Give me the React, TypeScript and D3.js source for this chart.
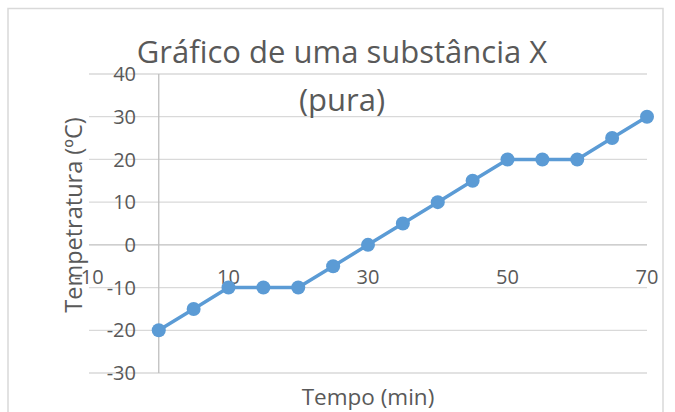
import * as React from 'react';
import * as d3 from 'd3';

const tempo = [0, 5, 10, 15, 20, 25, 30, 35, 40, 45, 50, 55, 60, 65, 70];
const temperatura = [-20, -15, -10, -10, -10, -5, 0, 5, 10, 15, 20, 20, 20, 25, 30];
const xTicks = [-10, 10, 30, 50, 70];
const yTicks = [-30, -20, -10, 0, 10, 20, 30, 40];
const titleLines = ['Gráfico de uma substância X', '(pura)'];

const WIDTH = 675;
const HEIGHT = 412;
const FONT = '"Open Sans", Lato, sans-serif';
const TEXT = '#595959';
const BLUE = '#5b9bd5';

export default function App() {
    const x = d3.scaleLinear().domain([-10, 70]).range([89, 647]);
    const y = d3.scaleLinear().domain([-30, 40]).range([373, 74]);

    const line = d3.line<number>()
        .x((d, i) => x(tempo[i]))
        .y((d) => y(d));

    return (
        <svg width={WIDTH} height={HEIGHT} style={{ position: 'absolute', left: 0, top: 0 }}>
            <rect x={0} y={0} width={WIDTH} height={HEIGHT} fill="#fff" />
            <rect x={8} y={8.5} width={655} height={420} fill="#fff" stroke="#d9d9d9" strokeWidth={1.5} />

            {/* grid */}
            {yTicks.map((t) => (
                <line key={'g' + t} x1={x(-10)} x2={x(70)} y1={y(t)} y2={y(t)}
                    stroke={t === 0 ? '#bfbfbf' : '#d9d9d9'} strokeWidth={1.3} />
            ))}
            <line x1={x(0)} x2={x(0)} y1={y(40)} y2={y(-30)} stroke="#bfbfbf" strokeWidth={1.3} />

            {/* y tick labels */}
            {yTicks.map((t) => (
                <text key={'y' + t} x={136} y={y(t)} dy="0.36em" textAnchor="end"
                    fontFamily={FONT} fontSize={20} fill={TEXT}>{t}</text>
            ))}

            {/* x tick labels */}
            {xTicks.map((t) => (
                <text key={'x' + t} x={x(t)} y={284} textAnchor="middle"
                    fontFamily={FONT} fontSize={20} fill={TEXT}>{t}</text>
            ))}

            {/* series */}
            <path d={line(temperatura) || ''} fill="none" stroke={BLUE} strokeWidth={3.5} strokeLinejoin="round" />
            {temperatura.map((v, i) => (
                <circle key={'p' + i} cx={x(tempo[i])} cy={y(v)} r={7} fill={BLUE} />
            ))}

            {/* title */}
            {titleLines.map((s, i) => (
                <text key={'t' + i} x={342} y={63 + i * 48} textAnchor="middle"
                    fontFamily={FONT} fontSize={31} fill={TEXT}>{s}</text>
            ))}

            {/* axis titles */}
            <text transform={`translate(82,215) rotate(-90)`} textAnchor="middle"
                fontFamily={FONT} fontSize={23.5} fill={TEXT}>Tempetratura (ºC)</text>
            <text x={368} y={405} textAnchor="middle"
                fontFamily={FONT} fontSize={22.5} fill={TEXT}>Tempo (min)</text>
        </svg>
    );
}
